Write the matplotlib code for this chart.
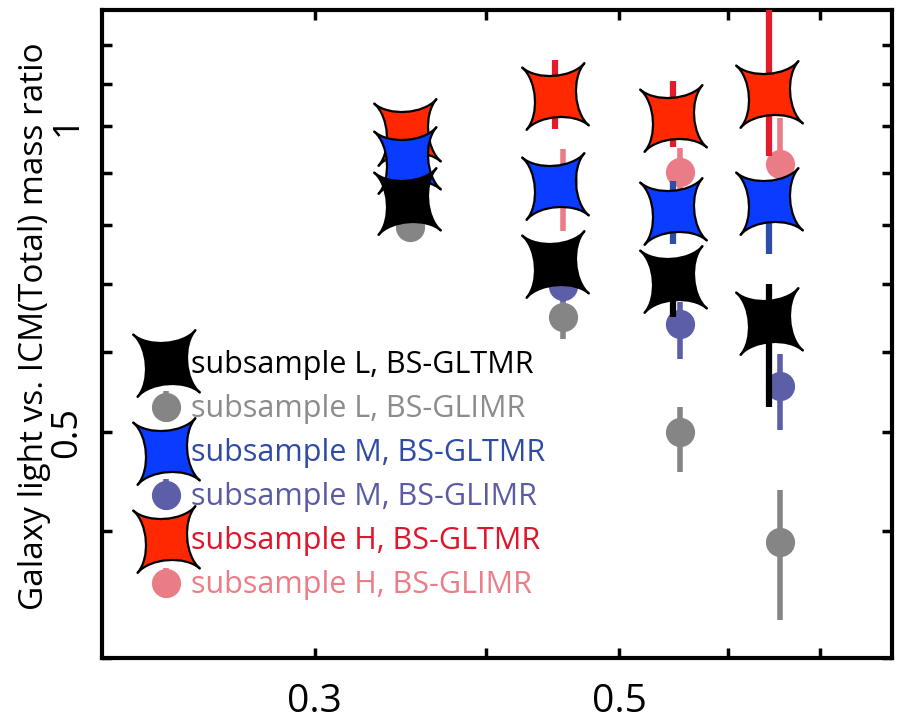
import numpy as np
import matplotlib
matplotlib.use('Agg')
import matplotlib.pyplot as plt
from matplotlib.path import Path
from matplotlib.transforms import Affine2D
from matplotlib.ticker import FixedLocator, FixedFormatter, NullLocator, NullFormatter

plt.rcParams['font.family'] = ['Open Sans', 'DejaVu Sans']

# x positions (stars and circles slightly shifted)
x_tmr = [0.350, 0.449, 0.547, 0.643]
x_imr = [0.352, 0.455, 0.554, 0.655]

# subsample L
L_tmr = [0.843, 0.732, 0.707, 0.643]
L_tmr_lo = [0.03, 0.02, 0.058, 0.114]
L_tmr_hi = [0.03, 0.02, 0.02, 0.056]
L_imr = [0.796, 0.649, 0.500, 0.390]
L_imr_lo = [0.02, 0.032, 0.043, 0.063]
L_imr_hi = [0.02, 0.023, 0.029, 0.049]

# subsample M
M_tmr = [0.925, 0.872, 0.825, 0.843]
M_tmr_lo = [0.03, 0.03, 0.059, 0.094]
M_tmr_hi = [0.03, 0.03, 0.058, 0.04]
M_imr = [0.815, 0.696, 0.639, 0.555]
M_imr_lo = [0.02, 0.03, 0.049, 0.052]
M_imr_hi = [0.02, 0.02, 0.033, 0.042]

# subsample H
H_tmr = [0.987, 1.071, 1.017, 1.076]
H_tmr_lo = [0.03, 0.077, 0.063, 0.141]
H_tmr_hi = [0.03, 0.089, 0.091, 0.30]
H_imr = [0.980, 0.882, 0.902, 0.918]
H_imr_lo = [0.04, 0.093, 0.05, 0.09]
H_imr_hi = [0.04, 0.068, 0.05, 0.099]

labels = ['subsample L, BS-GLTMR', 'subsample L, BS-GLIMR',
          'subsample M, BS-GLTMR', 'subsample M, BS-GLIMR',
          'subsample H, BS-GLTMR', 'subsample H, BS-GLIMR']
label_colors = ['#000000', '#8c8c8c', '#2f4ba5', '#5a5aa5', '#e0142a', '#ec7c86']

xticks = [0.3, 0.4, 0.5, 0.6, 0.7]
xticklabels = ['0.3', '', '0.5', '', '']
yticks = [0.3, 0.4, 0.5, 0.6, 0.7, 0.8, 0.9, 1.0, 1.1, 1.2]
yticklabels = ['', '', '0.5', '', '', '', '', '1', '', '']

# concave four pointed star (short spikes, flat-ish middle of each edge)
q = 0.55
verts = [(1, 1), (q, q), (-q, q), (-1, 1),
         (-q, q), (-q, -q), (-1, -1),
         (-q, -q), (q, -q), (1, -1),
         (q, -q), (q, q), (1, 1), (0, 0)]
codes = [Path.MOVETO] + [Path.CURVE4] * 12 + [Path.CLOSEPOLY]
star = Path(verts, codes).transformed(Affine2D().rotate_deg(4))

fig = plt.figure(figsize=(8.99, 7.25), dpi=100)
ax = fig.add_axes([102 / 899, 1 - 658 / 725, 790 / 899, 648 / 725])

def circles(y, lo, hi, col):
    return ax.errorbar(x_imr, y, yerr=[lo, hi], fmt='o', ms=20, color=col, mec=col,
                       ecolor=col, elinewidth=4, capsize=0, zorder=2)

def stars(y, lo, hi, fill, bar, z):
    ax.errorbar(x_tmr, y, yerr=[lo, hi], fmt='none', ecolor=bar, elinewidth=4.5,
                capsize=0, zorder=z)
    return ax.plot(x_tmr, y, ls='none', marker=star, ms=48, mfc=fill, mec='black',
                   mew=1.6, zorder=z + 0.1)[0]

hM = circles(M_imr, M_imr_lo, M_imr_hi, '#5c5ea8')
hL = circles(L_imr, L_imr_lo, L_imr_hi, '#858585')
hH = circles(H_imr, H_imr_lo, H_imr_hi, '#ea7c86')
sH = stars(H_tmr, H_tmr_lo, H_tmr_hi, '#ff2800', '#e31b2b', 3)
sM = stars(M_tmr, M_tmr_lo, M_tmr_hi, '#0a3cff', '#2d4da6', 4)
sL = stars(L_tmr, L_tmr_lo, L_tmr_hi, '#000000', '#000000', 5)

ax.set_xscale('log')
ax.set_yscale('log')
ax.set_xlim(0.21, 0.79)
ax.set_ylim(0.3, 1.3)

ax.xaxis.set_major_locator(FixedLocator(xticks))
ax.xaxis.set_major_formatter(FixedFormatter(xticklabels))
ax.xaxis.set_minor_locator(NullLocator())
ax.xaxis.set_minor_formatter(NullFormatter())
ax.yaxis.set_major_locator(FixedLocator(yticks))
ax.yaxis.set_major_formatter(FixedFormatter(yticklabels))
ax.yaxis.set_minor_locator(NullLocator())
ax.yaxis.set_minor_formatter(NullFormatter())

ax.tick_params(direction='in', length=7, width=2.5, top=True, right=True)
ax.tick_params(axis='x', labelsize=28, pad=18)
ax.tick_params(axis='y', labelsize=26, pad=12)
for t in ax.get_yticklabels():
    t.set_rotation(90)
    t.set_va('center')
for s in ax.spines.values():
    s.set_linewidth(3)

fig.text(35 / 899, 1 - 326 / 725, 'Galaxy light vs. ICM(Total) mass ratio',
         rotation=90, ha='center', va='center', fontsize=24)

handles = [sL, hL, sM, hM, sH, hH]
leg = ax.legend(handles, labels, loc='upper left', bbox_to_anchor=(0.062, 0.475),
                frameon=False, fontsize=22, handlelength=1.0, handletextpad=0.3,
                labelspacing=0.46, borderpad=0, borderaxespad=0, labelcolor=label_colors)

fig.savefig('out.png', dpi=100)
